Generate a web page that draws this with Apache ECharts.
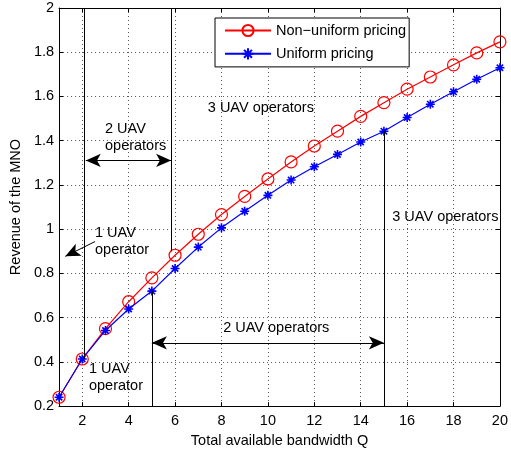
<!DOCTYPE html>
<html>
<head>
<meta charset="utf-8">
<script src="https://cdn.jsdelivr.net/npm/echarts@6/dist/echarts.min.js"></script>
<style>
html,body{margin:0;padding:0;background:#fff;}
#c{width:511px;height:453px;}
</style>
</head>
<body>
<div id="c"></div>
<script>
const bandwidth = [1,2,3,4,5,6,7,8,9,10,11,12,13,14,15,16,17,18,19,20];
const nonUniform = [0.24,0.413,0.55,0.672,0.78,0.882,0.977,1.066,1.148,1.227,1.304,1.376,1.443,1.51,1.572,1.633,1.688,1.743,1.797,1.847];
const uniform = [0.24,0.413,0.542,0.639,0.72,0.822,0.919,1.006,1.081,1.153,1.222,1.282,1.338,1.394,1.443,1.505,1.565,1.621,1.678,1.73];
const xTickValues = [2,4,6,8,10,12,14,16,18,20];
const seriesNames = ['Non\u2212uniform pricing','Uniform pricing'];
const xAxisTitle = 'Total available bandwidth Q';
const yAxisTitle = 'Revenue of the MNO';

const FONT = 'Liberation Sans, Arial, Helvetica, sans-serif';
const chart = echarts.init(document.getElementById('c'), null, {renderer:'canvas'});

const pairs = (ys) => bandwidth.map((x,i)=>[x, ys[i]]);
const asterisk = 'path://M5,0 L5,10 M0,5 L10,5 M1.5,1.5 L8.5,8.5 M1.5,8.5 L8.5,1.5';

const black = {color:'#000', width:1, type:'solid'};
function seg(a, b, symbols){
  return [{coord:a, symbol:symbols[0]}, {coord:b, symbol:symbols[1]}];
}
function txt(coord, text, align){
  return {coord: coord, symbol:'circle', symbolSize:0,
    label:{show:true, position:'inside', formatter:text, align:align||'left', verticalAlign:'middle',
      color:'#000', fontSize:14.5, lineHeight:17, fontFamily:FONT}};
}

const gridDots = {show:true, lineStyle:{color:'#555', type:[1,3], width:1}};

const option = {
  animation:false,
  backgroundColor:'#fff',
  textStyle:{fontFamily:FONT},
  grid:{left:56.7, right:9, top:8, bottom:41.3, containLabel:false},
  legend:{
    left:215, top:18, orient:'vertical',
    data:seriesNames,
    itemWidth:46, itemHeight:14, itemGap:7.7,
    padding:[5,3,5,9],
    borderColor:'#000', borderWidth:1, backgroundColor:'#fff',
    textStyle:{fontSize:14.5, color:'#000', fontFamily:FONT},
    selectedMode:false
  },
  xAxis:[{
    type:'value', min:1, max:20, position:'bottom',
    name:xAxisTitle, nameLocation:'middle', nameGap:24,
    nameTextStyle:{fontSize:14.5, color:'#000', fontFamily:FONT},
    axisLine:{show:true, onZero:false, lineStyle:{color:'#000', width:1}},
    axisTick:{show:true, inside:true, length:4, customValues:xTickValues, lineStyle:{color:'#000'}},
    axisLabel:{show:true, customValues:xTickValues, margin:7, fontSize:14.5, color:'#000', fontFamily:FONT},
    splitLine:gridDots
  },{
    type:'value', min:1, max:20, position:'top',
    axisLine:{show:true, onZero:false, lineStyle:{color:'#000', width:1}},
    axisTick:{show:true, inside:true, length:4, customValues:xTickValues, lineStyle:{color:'#000'}},
    axisLabel:{show:false},
    splitLine:{show:false}
  }],
  yAxis:[{
    type:'value', min:0.2, max:2, interval:0.2, position:'left',
    name:yAxisTitle, nameLocation:'middle', nameGap:34,
    nameTextStyle:{fontSize:14.5, color:'#000', fontFamily:FONT},
    axisLine:{show:true, onZero:false, lineStyle:{color:'#000', width:1}},
    axisTick:{show:true, inside:true, length:4, lineStyle:{color:'#000'}},
    axisLabel:{show:true, margin:5, fontSize:14.5, color:'#000', fontFamily:FONT},
    splitLine:gridDots
  },{
    type:'value', min:0.2, max:2, interval:0.2, position:'right',
    axisLine:{show:true, onZero:false, lineStyle:{color:'#000', width:1}},
    axisTick:{show:true, inside:true, length:4, lineStyle:{color:'#000'}},
    axisLabel:{show:false},
    splitLine:{show:false}
  }],
  series:[{
    name:seriesNames[0], type:'line', data:pairs(nonUniform),
    symbol:'circle', symbolSize:12,
    lineStyle:{color:'#ff0000', width:1.2},
    itemStyle:{color:'rgba(0,0,0,0)', borderColor:'#ff0000', borderWidth:1.2},
    z:3
  },{
    name:seriesNames[1], type:'line', data:pairs(uniform),
    symbol:asterisk, symbolSize:9,
    lineStyle:{color:'#0000ff', width:1.2},
    itemStyle:{color:'none', borderColor:'#0000ff', borderWidth:1.6},
    z:4
  },{
    name:'annotations', type:'line', data:[], silent:true, z:2,
    markLine:{
      silent:true, animation:false,
      symbolSize:[10,15],
      lineStyle:black,
      label:{show:false},
      data:[
        seg([2.1,0.413],[2.1,2],['none','none']),
        seg([5.83,0.9],[5.83,2],['none','none']),
        seg([5,0.2],[5,0.72],['none','none']),
        seg([15,0.2],[15,1.443],['none','none']),
        seg([2.15,1.311],[5.83,1.311],['arrow','arrow']),
        seg([5,0.486],[15,0.486],['arrow','arrow']),
        seg([2.55,0.944],[1.27,0.877],['none','arrow'])
      ]
    },
    markPoint:{
      silent:true, animation:false,
      data:[
        txt([2.98,1.413],'2 UAV\noperators'),
        txt([7.41,1.547],'3 UAV operators'),
        txt([2.55,0.946],'1 UAV\noperator'),
        txt([2.29,0.33],'1 UAV\noperator'),
        txt([10.36,0.551],'2 UAV operators','center'),
        txt([15.36,1.056],'3 UAV operators')
      ]
    }
  }]
};
chart.setOption(option);
</script>
</body>
</html>
